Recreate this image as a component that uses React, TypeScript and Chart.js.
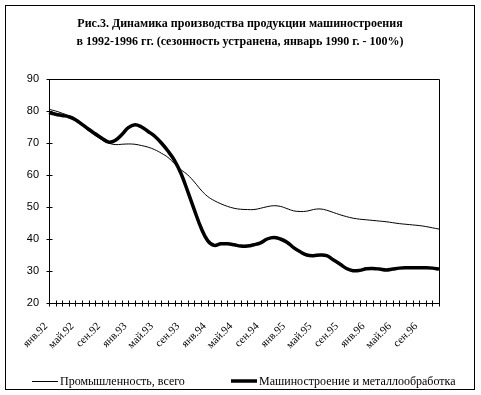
import React, { useEffect, useRef } from "react";
import { Chart, registerables } from "chart.js";

Chart.register(...registerables);

const MONTHS = ["янв", "фев", "мар", "апр", "май", "июн", "июл", "авг", "сен", "окт", "ноя", "дек"];
const YEARS = ["92", "93", "94", "95", "96"];
const CATEGORIES: string[] = [];
YEARS.forEach((y) => MONTHS.forEach((m) => CATEGORIES.push(m + "." + y)));

const INDUSTRY_TOTAL = [
  80.5, 80.0, 79.3, 78.5, 77.2, 75.5, 73.8, 72.3, 71.0, 70.0, 69.5, 69.6,
  69.7, 69.6, 69.2, 68.7, 67.9, 66.8, 65.5, 63.5, 61.6, 60.0, 57.8, 55.3,
  53.3, 52.0, 51.0, 50.2, 49.6, 49.3, 49.2, 49.2, 49.6, 50.1, 50.4, 50.2,
  49.5, 48.8, 48.6, 48.7, 49.2, 49.4, 49.0, 48.3, 47.6, 47.0, 46.5, 46.2,
  46.0, 45.8, 45.6, 45.4, 45.1, 44.8, 44.6, 44.4, 44.2, 43.9, 43.5, 43.1,
];

const MACHINE_BUILDING = [
  79.5, 79.0, 78.6, 78.2, 77.3, 75.8, 74.3, 72.9, 71.5, 70.3, 70.8, 72.6,
  74.8, 75.7, 75.0, 73.6, 72.1, 70.0, 67.5, 64.5, 60.3, 54.8, 49.0, 43.5,
  39.5, 38.0, 38.5, 38.5, 38.2, 37.8, 37.8, 38.2, 38.8, 40.0, 40.5, 40.0,
  39.0, 37.3, 36.0, 35.0, 34.8, 35.0, 34.8, 33.5, 32.2, 30.8, 30.1, 30.2,
  30.7, 30.8, 30.6, 30.3, 30.6, 30.9, 31.0, 31.0, 31.0, 31.0, 30.9, 30.6,
];

const SERIES_NAMES = ["Промышленность, всего", "Машиностроение и металлообработка"];
const TITLE_LINES = [
  "Рис.3. Динамика производства продукции машиностроения",
  "в 1992-1996 гг. (сезонность устранена, январь 1990 г. - 100%)",
];
const Y_MIN = 20;
const Y_MAX = 90;
const Y_STEP = 10;
const LABEL_EVERY = 4;

const SERIF = "'Liberation Serif', 'Times New Roman', serif";
const SANS = "'Liberation Sans', Arial, sans-serif";

const frameAndTicks = {
  id: "frameAndTicks",
  afterDatasetsDraw(chart: any) {
    const { ctx, chartArea: a, scales } = chart;
    const L = Math.round(a.left) + 0.5;
    const R = Math.round(a.right) + 0.5;
    const T = Math.round(a.top) + 0.5;
    const B = Math.round(a.bottom) + 0.5;
    ctx.save();
    ctx.strokeStyle = "#000";
    ctx.lineWidth = 1;
    ctx.beginPath();
    ctx.rect(L, T, R - L, B - T);
    scales.x.ticks.forEach((_t: any, i: number) => {
      const x = Math.round(scales.x.getPixelForTick(i)) + 0.5;
      ctx.moveTo(x, B - 3);
      ctx.lineTo(x, B + 3);
    });
    scales.y.ticks.forEach((_t: any, i: number) => {
      const y = Math.round(scales.y.getPixelForTick(i)) + 0.5;
      ctx.moveTo(L - 3, y);
      ctx.lineTo(L + 3, y);
    });
    ctx.stroke();
    ctx.restore();
  },
};

// legend drawn from the datasets' own labels and line widths
const LEGEND_ITEMS_X = [32, 231];
const LEGEND_Y = 381;
const LEGEND_LINE_LEN = 26;
const customLegend = {
  id: "customLegend",
  afterDraw(chart: any) {
    const { ctx } = chart;
    ctx.save();
    ctx.font = `12px ${SERIF}`;
    ctx.textBaseline = "middle";
    ctx.textAlign = "left";
    chart.data.datasets.forEach((ds: any, i: number) => {
      const x0 = LEGEND_ITEMS_X[i];
      ctx.strokeStyle = ds.borderColor;
      ctx.lineWidth = ds.borderWidth;
      ctx.lineCap = "butt";
      ctx.beginPath();
      const y = ds.borderWidth % 2 === 1 ? LEGEND_Y + 0.5 : LEGEND_Y;
      ctx.moveTo(x0, y);
      ctx.lineTo(x0 + LEGEND_LINE_LEN, y);
      ctx.stroke();
      ctx.fillStyle = "#000";
      ctx.fillText(ds.label, x0 + LEGEND_LINE_LEN + 2, LEGEND_Y + 1);
    });
    ctx.restore();
  },
};

export default function App() {
  const ref = useRef<HTMLCanvasElement | null>(null);

  useEffect(() => {
    if (!ref.current) return;
    const chart = new Chart(ref.current, {
      type: "line",
      data: {
        labels: CATEGORIES,
        datasets: [
          {
            label: SERIES_NAMES[0],
            data: INDUSTRY_TOTAL,
            borderColor: "#000",
            backgroundColor: "#000",
            borderWidth: 1,
            pointRadius: 0,
            tension: 0.4,
            fill: false,
          },
          {
            label: SERIES_NAMES[1],
            data: MACHINE_BUILDING,
            borderColor: "#000",
            backgroundColor: "#000",
            borderWidth: 3.5,
            borderJoinStyle: "round",
            pointRadius: 0,
            tension: 0.4,
            fill: false,
          },
        ],
      },
      plugins: [frameAndTicks, customLegend],
      options: {
        responsive: false,
        animation: false,
        devicePixelRatio: 1,
        layout: { padding: { left: 5, right: 6, top: 0, bottom: 32 } },
        plugins: {
          title: {
            display: true,
            text: TITLE_LINES,
            color: "#000",
            font: { family: SERIF, size: 12, weight: "bold", lineHeight: 1.5 },
            padding: { top: 15, bottom: 28 },
          },
          legend: { display: false },
          tooltip: { enabled: false },
        },
        scales: {
          x: {
            type: "category",
            offset: false,
            grid: { display: false, drawTicks: false },
            border: { display: false },
            afterFit: (s: any) => {
              s.height = 60;
            },
            ticks: {
              autoSkip: false,
              minRotation: 45,
              maxRotation: 45,
              padding: 17,
              labelOffset: -3,
              color: "#000",
              font: { family: SERIF, size: 11 },
              callback: (_v: any, i: number) => (i % LABEL_EVERY === 0 ? CATEGORIES[i] : ""),
            },
          },
          y: {
            min: Y_MIN,
            max: Y_MAX,
            grid: { display: false, drawTicks: false },
            border: { display: false },
            afterFit: (s: any) => {
              s.width = 44;
            },
            ticks: {
              stepSize: Y_STEP,
              padding: 10,
              color: "#000",
              font: { family: SANS, size: 11 },
            },
          },
          yRight: {
            position: "right",
            display: true,
            grid: { display: false, drawTicks: false },
            border: { display: false },
            ticks: { display: false },
            afterFit: (s: any) => {
              s.width = 36;
            },
          },
        },
      },
    } as any);
    return () => chart.destroy();
  }, []);

  return (
    <div style={{ position: "fixed", left: 0, top: 0, width: 481, height: 395, background: "#fff" }}>
      <canvas ref={ref} width={481} height={395} style={{ display: "block" }} />
      <div
        style={{
          position: "absolute",
          left: 5,
          top: 5,
          width: 470,
          height: 385,
          boxSizing: "border-box",
          border: "1px solid #000",
          pointerEvents: "none",
        }}
      />
    </div>
  );
}
